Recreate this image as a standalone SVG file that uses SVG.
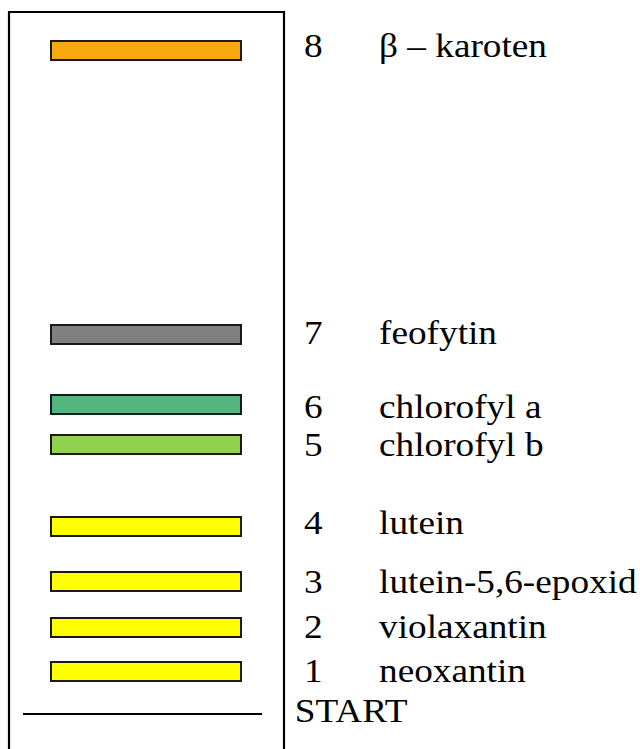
<svg xmlns="http://www.w3.org/2000/svg" width="640" height="749" viewBox="0 0 640 749">
<style>
.band{stroke:#1a1a1a;stroke-width:2}
.lbl{font-family:"Liberation Serif","Times New Roman",serif;font-size:34.5px;fill:#000}
</style>
<rect width="640" height="749" fill="#fff"/>
<g id="plate">
<path d="M9,760 V12 H284 V760" fill="none" stroke="#000" stroke-width="2.2"/>
</g>
<g id="bands">
<rect id="band8" class="band" x="51" y="41" width="190" height="19" fill="#F7A90D"/>
<rect id="band7" class="band" x="51" y="325" width="190" height="19" fill="#808080"/>
<rect id="band6" class="band" x="51" y="395" width="190" height="19" fill="#55B57E"/>
<rect id="band5" class="band" x="51" y="435" width="190" height="19" fill="#92D050"/>
<rect id="band4" class="band" x="51" y="517" width="190" height="19" fill="#FFFF00"/>
<rect id="band3" class="band" x="51" y="572" width="190" height="19" fill="#FFFF00"/>
<rect id="band2" class="band" x="51" y="618" width="190" height="19" fill="#FFFF00"/>
<rect id="band1" class="band" x="51" y="662" width="190" height="19" fill="#FFFF00"/>
<line id="startline" x1="23" y1="714" x2="262" y2="714" stroke="#000" stroke-width="2"/>
</g>
<g id="labels" transform="scale(1.08 1)">
<text class="lbl" x="281.5" y="57">8</text>
<text class="lbl" x="351" y="57">β – karoten</text>
<text class="lbl" x="281.5" y="344">7</text>
<text class="lbl" x="351" y="344">feofytin</text>
<text class="lbl" x="281.5" y="418">6</text>
<text class="lbl" x="351" y="418">chlorofyl a</text>
<text class="lbl" x="281.5" y="456">5</text>
<text class="lbl" x="351" y="456">chlorofyl b</text>
<text class="lbl" x="281.5" y="534">4</text>
<text class="lbl" x="351" y="534">lutein</text>
<text class="lbl" x="281.5" y="593">3</text>
<text class="lbl" x="351" y="593">lutein-5,6-epoxid</text>
<text class="lbl" x="281.5" y="638">2</text>
<text class="lbl" x="351" y="638">violaxantin</text>
<text class="lbl" x="281.5" y="682">1</text>
<text class="lbl" x="351" y="682">neoxantin</text>
<text class="lbl" x="273" y="722">START</text>
</g>
</svg>
